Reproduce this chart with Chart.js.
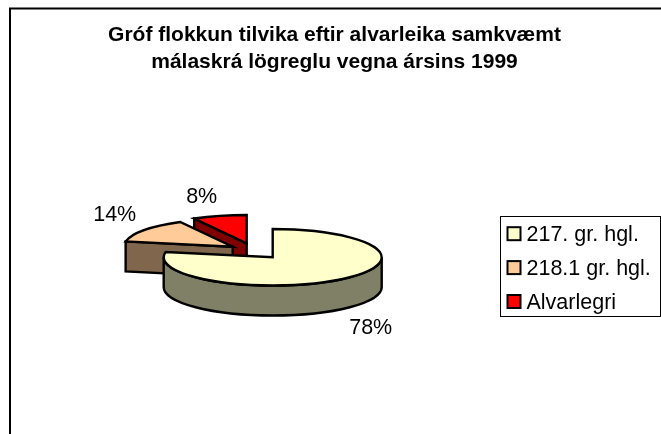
<!DOCTYPE html>
<html><head><meta charset="utf-8">
<style>html,body{margin:0;padding:0;background:#fff}#w{width:661px;height:434px}</style>
<script src="https://cdn.jsdelivr.net/npm/chart.js@4/dist/chart.umd.min.js"></script>
</head><body><div id="w"><canvas id="c" width="661" height="434"></canvas></div>
<script>
const categories = ["217. gr. hgl.", "218.1 gr. hgl.", "Alvarlegri"];
const shares = [78, 14, 8];
const titleLines = ["Gróf flokkun tilvika eftir alvarleika samkvæmt", "málaskrá lögreglu vegna ársins 1999"];
const topColors = ["#FFFFCC", "#FFCC99", "#FF0000"];
const sideColors = ["#808066", "#80664D", "#800000"];
const explode = [[0, 0], [-40, -10.6], [-26, -14]];
const labelAnchors = [[98, 71], [-158, -42], [-71, -60]];
const FLAT = 28.5 / 110, DEPTH = 30;

const pie3d = {
  id: 'pie3d',
  afterLayout(chart) {
    Object.assign(chart.chartArea, {left: 162.7, right: 382.7, top: 147.3, bottom: 367.3, width: 220, height: 220});
    chart.legend.draw = () => {};
    const t = chart.titleBlock;
    t.left = 8; t.right = 661; t.top = 22; t.bottom = t.top + t.height;
  },
  beforeDraw(chart) {
    const c = chart.ctx;
    c.save(); c.strokeStyle = '#000'; c.lineWidth = 2;
    c.strokeRect(10, 8.5, 800, 600);
    c.lineWidth = 1; c.strokeRect(500.5, 216.5, 160, 100);
    chart.legend.legendItems.forEach((it, i) => {
      const y = 233.7 + i * 33.9;
      c.fillStyle = it.fillStyle; c.strokeStyle = '#000'; c.lineWidth = 2;
      c.fillRect(507.5, y - 6.5, 13, 13); c.strokeRect(507.5, y - 6.5, 13, 13);
      c.fillStyle = '#000'; c.font = '21.5px "Liberation Sans"';
      c.textAlign = 'left'; c.textBaseline = 'alphabetic';
      c.fillText(it.text, 526.5, y + 7);
    });
    c.restore();
  },
  beforeDatasetsDraw(chart) {
    const c = chart.ctx, arcs = chart.getDatasetMeta(0).data;
    c.save();
    c.lineWidth = 2.4; c.strokeStyle = '#000'; c.lineJoin = 'miter';
    [2, 1, 0].forEach(i => {
      const a = arcs[i], rx = a.outerRadius, ry = rx * FLAT;
      const cx = a.x + explode[i][0], cy = a.y + explode[i][1];
      const a0 = a.startAngle, a1 = a.endAngle;
      const pt = (t, d) => [cx + rx * Math.cos(t), cy + ry * Math.sin(t) + d];
      const face = t => {
        const p = pt(t, 0), q = pt(t, DEPTH);
        c.beginPath(); c.moveTo(cx, cy); c.lineTo(...p); c.lineTo(...q); c.lineTo(cx, cy + DEPTH); c.closePath();
        c.fillStyle = sideColors[i]; c.fill(); c.stroke();
      };
      if (Math.cos(a0) < -1e-6) face(a0);
      if (Math.cos(a1) > 1e-6) face(a1);
      const w0 = Math.max(a0, 0), w1 = Math.min(a1, Math.PI);
      if (w1 > w0) {
        c.beginPath();
        c.ellipse(cx, cy, rx, ry, 0, w0, w1);
        c.ellipse(cx, cy + DEPTH, rx, ry, 0, w1, w0, true);
        c.closePath(); c.fillStyle = sideColors[i]; c.fill(); c.stroke();
      }
      c.beginPath(); c.moveTo(cx, cy);
      c.ellipse(cx, cy, rx, ry, 0, a0, a1);
      c.closePath(); c.fillStyle = topColors[i]; c.fill(); c.stroke();
    });
    c.fillStyle = '#000'; c.font = '21.5px "Liberation Sans"';
    c.textAlign = 'center'; c.textBaseline = 'middle';
    arcs.forEach((a, i) => c.fillText(shares[i] + '%', a.x + labelAnchors[i][0], a.y + labelAnchors[i][1]));
    c.restore();
    return false;
  }
};

new Chart(document.getElementById('c'), {
  type: 'pie',
  data: {labels: categories, datasets: [{data: shares, backgroundColor: topColors, borderColor: '#000', borderWidth: 2}]},
  options: {
    responsive: false, animation: false,
    plugins: {
      tooltip: {enabled: false},
      title: {display: true, text: titleLines, color: '#000', padding: 0,
        font: {family: '"Liberation Sans"', size: 21, weight: 'bold', lineHeight: 1.29}},
      legend: {position: 'right', align: 'start',
        labels: {boxWidth: 14, boxHeight: 14, padding: 11, color: '#000',
          font: {family: '"Liberation Sans"', size: 21}}}
    }
  },
  plugins: [pie3d]
});
</script></body></html>
